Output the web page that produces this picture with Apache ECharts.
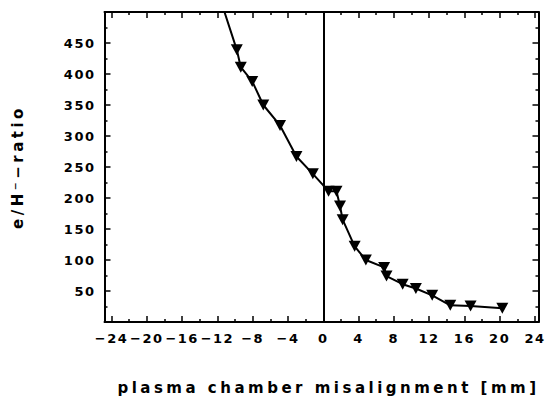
<!DOCTYPE html>
<html>
<head>
<meta charset="utf-8">
<script src="https://cdn.jsdelivr.net/npm/echarts@6/dist/echarts.min.js"></script>
<style>
  html, body { margin: 0; padding: 0; background: #fff; }
  #chart { width: 547px; height: 400px; }
  #chart text[style*="13px"] { letter-spacing: 1.5px; }
  #chart text[style*="15px"] { letter-spacing: 3.5px; }
</style>
</head>
<body>
<div id="chart"></div>
<script>
// Data
const misalignment = [-12, -9.8, -9.35, -8.05, -6.8, -4.9, -3.04, -1.18, 0.6, 1.5, 1.9, 2.2, 3.56, 4.83, 6.9, 7.17, 9.0, 10.5, 12.35, 14.4, 16.7, 20.3];
const ratio = [535, 439, 411, 388, 350, 317, 267, 239, 211, 211, 187, 165, 122, 100, 88, 74, 61, 54, 43, 27, 26, 22];
const shownMarker = [false, true, true, true, true, true, true, true, true, true, true, true, true, true, true, true, true, true, true, true, true, true];
const xTickLabels = [-24, -20, -16, -12, -8, -4, 0, 4, 8, 12, 16, 20, 24];
const xMinorTicks = [-22, -18, -14, -10, -6, -2, 2, 6, 10, 14, 18, 22];
const zeroLineX = [0];

const X_MIN = -24.8, X_MAX = 24.4;
const FONT = 'DejaVu Sans';
const black = '#000';

const seriesData = misalignment.map((x, i) => shownMarker[i] ? [x, ratio[i]] : { value: [x, ratio[i]], symbol: 'none' });

function xAxisDef(position, ticks, showLine, showLabels, len) {
  return {
    type: 'value', position: position, min: X_MIN, max: X_MAX,
    axisLine: { show: showLine, onZero: false, lineStyle: { color: black, width: 2 } },
    axisTick: { show: true, inside: true, length: len, customValues: ticks, lineStyle: { color: black, width: 1.5 } },
    axisLabel: showLabels ? {
      show: true, customValues: xTickLabels, margin: 10, color: black,
      fontFamily: FONT, fontWeight: 'bold', fontSize: 13,
      formatter: v => (v < 0 ? '\u2212' + Math.abs(v) : String(v))
    } : { show: false },
    splitLine: { show: false }
  };
}

const chart = echarts.init(document.getElementById('chart'), null, { renderer: 'svg' });
chart.setOption({
  animation: false,
  backgroundColor: '#fff',
  grid: { left: 104.5, right: 0.5, top: 12, bottom: 77, containLabel: false },
  xAxis: [
    Object.assign(xAxisDef('bottom', xTickLabels, true, true, 6), {
      name: 'plasma chamber misalignment [mm]', nameLocation: 'middle', nameGap: 58,
      nameTextStyle: { color: black, fontFamily: FONT, fontWeight: 'bold', fontSize: 15, padding: [0, 0, 0, 14] }
    }),
    xAxisDef('bottom', xMinorTicks, false, false, 3),
    xAxisDef('top', xTickLabels, true, false, 6),
    xAxisDef('top', xMinorTicks, false, false, 3)
  ],
  yAxis: [
    {
      type: 'value', position: 'left', min: 0, max: 500, interval: 50,
      name: 'e/H\u207B\u2212ratio', nameLocation: 'middle', nameGap: 79,
      nameTextStyle: { color: black, fontFamily: FONT, fontWeight: 'bold', fontSize: 15 },
      axisLine: { show: true, onZero: false, lineStyle: { color: black, width: 2 } },
      axisTick: { show: true, inside: true, length: 6, lineStyle: { color: black, width: 1.5 } },
      minorTick: { show: true, splitNumber: 2, length: 3, lineStyle: { color: black, width: 1.5 } },
      axisLabel: { show: true, showMinLabel: false, showMaxLabel: false, margin: 9, color: black,
        fontFamily: FONT, fontWeight: 'bold', fontSize: 13 },
      splitLine: { show: false }, minorSplitLine: { show: false }
    },
    {
      type: 'value', position: 'right', min: 0, max: 500, interval: 50,
      axisLine: { show: true, onZero: false, lineStyle: { color: black, width: 2 } },
      axisTick: { show: true, inside: true, length: 6, lineStyle: { color: black, width: 1.5 } },
      minorTick: { show: true, splitNumber: 2, length: 3, lineStyle: { color: black, width: 1.5 } },
      axisLabel: { show: false },
      splitLine: { show: false }, minorSplitLine: { show: false }
    }
  ],
  series: [
    {
      type: 'line', xAxisIndex: 0, yAxisIndex: 0,
      data: seriesData,
      clip: true,
      symbol: 'triangle', symbolRotate: 180, symbolSize: [12, 11],
      lineStyle: { color: black, width: 2 },
      itemStyle: { color: black },
      markLine: {
        silent: true, symbol: ['none', 'none'],
        label: { show: false },
        lineStyle: { color: black, width: 2, type: 'solid' },
        data: zeroLineX.map(v => ({ xAxis: v }))
      },
      z: 3
    }
  ]
});
</script>
</body>
</html>
